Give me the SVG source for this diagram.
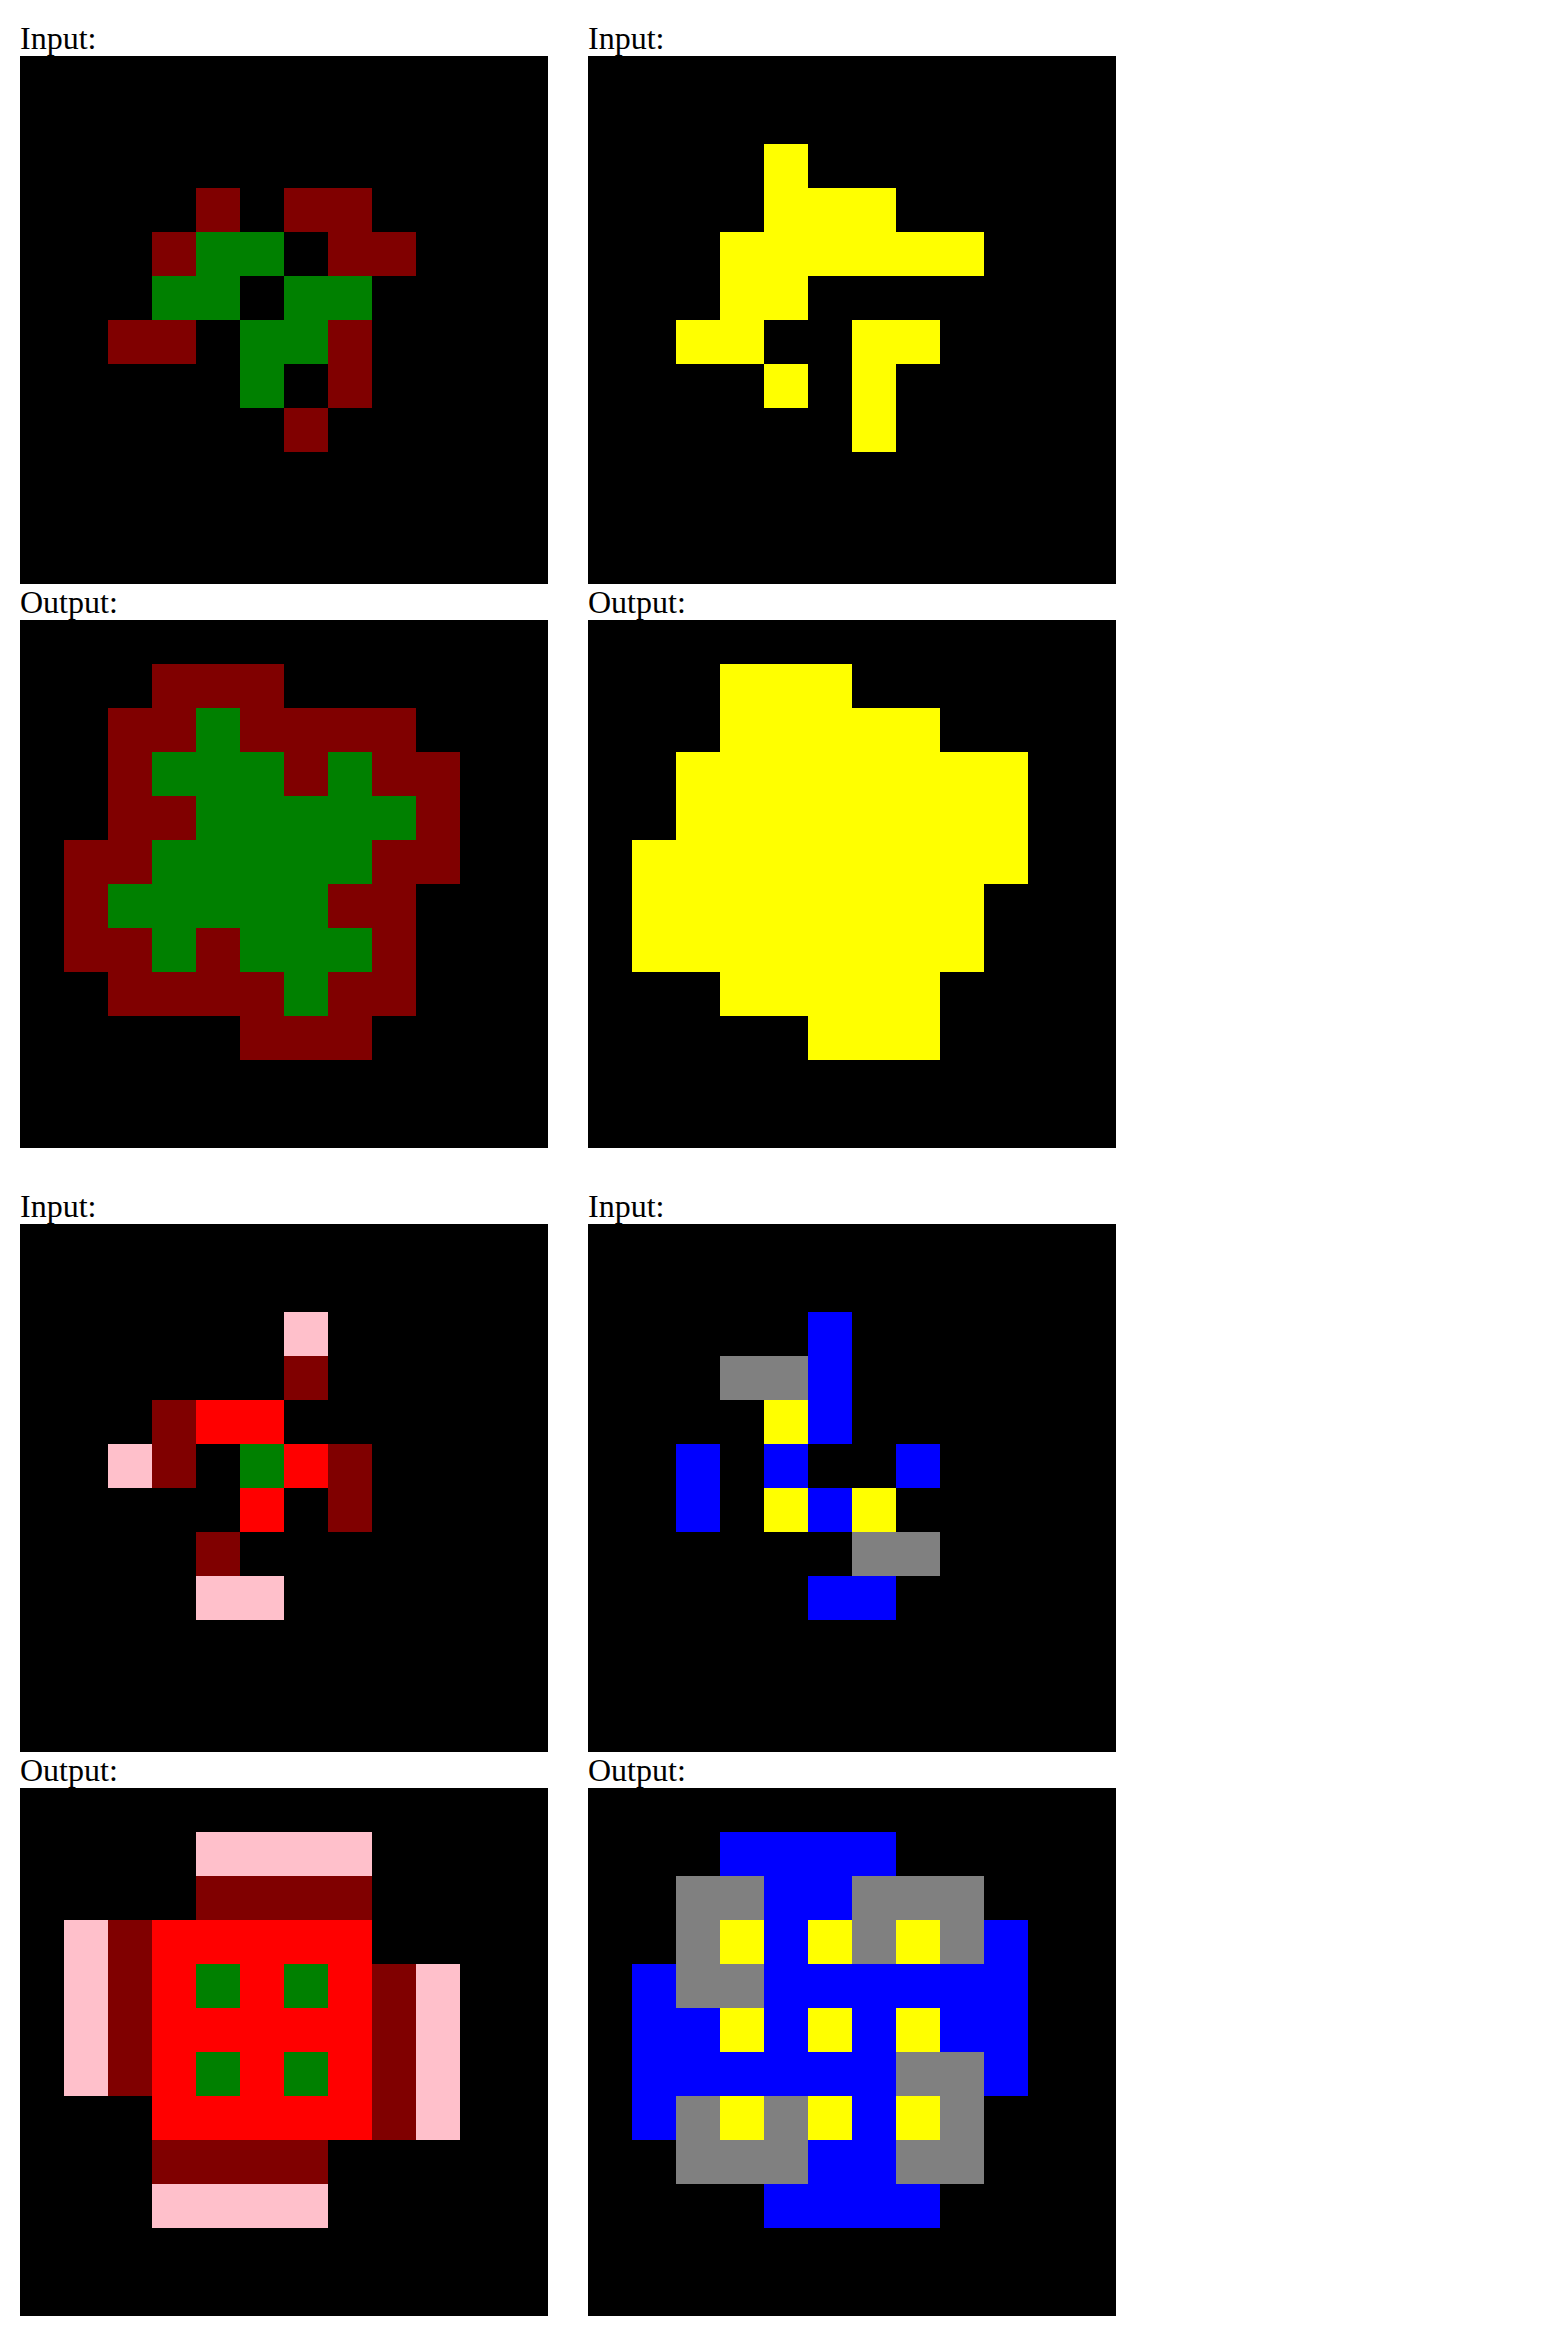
<svg xmlns="http://www.w3.org/2000/svg" width="1566" height="2336" viewBox="0 0 1566 2336">
<style>
text{font-family:"Liberation Serif","Times New Roman",serif;font-size:32px;fill:#000}
.bg{fill:#000}
.m{fill:#800000}.g{fill:#008000}.y{fill:#ffff00}.p{fill:#ffc0cb}.r{fill:#ff0000}.b{fill:#0000ff}.s{fill:#808080}
</style>
<rect width="1566" height="2336" fill="#fff"/>
<g id="labels">
<text x="20" y="49">Input:</text>
<text x="588" y="49">Input:</text>
<text x="20" y="613">Output:</text>
<text x="588" y="613">Output:</text>
<text x="20" y="1217">Input:</text>
<text x="588" y="1217">Input:</text>
<text x="20" y="1781">Output:</text>
<text x="588" y="1781">Output:</text>
</g>
<g id="p1-input">
<rect class="bg" x="20" y="56" width="528" height="528"/>
<rect class="m" x="196" y="188" width="44" height="44"/>
<rect class="m" x="284" y="188" width="88" height="44"/>
<rect class="m" x="152" y="232" width="44" height="44"/>
<rect class="m" x="328" y="232" width="88" height="44"/>
<rect class="m" x="108" y="320" width="88" height="44"/>
<rect class="m" x="328" y="320" width="44" height="88"/>
<rect class="m" x="284" y="408" width="44" height="44"/>
<rect class="g" x="196" y="232" width="88" height="44"/>
<rect class="g" x="152" y="276" width="88" height="44"/>
<rect class="g" x="284" y="276" width="88" height="44"/>
<rect class="g" x="240" y="320" width="88" height="44"/>
<rect class="g" x="240" y="364" width="44" height="44"/>
</g>
<g id="p2-input">
<rect class="bg" x="588" y="56" width="528" height="528"/>
<rect class="y" x="764" y="144" width="44" height="44"/>
<rect class="y" x="764" y="188" width="132" height="44"/>
<rect class="y" x="720" y="232" width="264" height="44"/>
<rect class="y" x="720" y="276" width="88" height="44"/>
<rect class="y" x="676" y="320" width="88" height="44"/>
<rect class="y" x="852" y="320" width="88" height="44"/>
<rect class="y" x="764" y="364" width="44" height="44"/>
<rect class="y" x="852" y="364" width="44" height="88"/>
</g>
<g id="p3-output">
<rect class="bg" x="20" y="620" width="528" height="528"/>
<rect class="m" x="152" y="664" width="132" height="44"/>
<rect class="m" x="108" y="708" width="88" height="44"/>
<rect class="g" x="196" y="708" width="44" height="44"/>
<rect class="m" x="240" y="708" width="176" height="44"/>
<rect class="m" x="108" y="752" width="44" height="44"/>
<rect class="g" x="152" y="752" width="132" height="44"/>
<rect class="m" x="284" y="752" width="44" height="44"/>
<rect class="g" x="328" y="752" width="44" height="44"/>
<rect class="m" x="372" y="752" width="88" height="44"/>
<rect class="m" x="108" y="796" width="88" height="44"/>
<rect class="g" x="196" y="796" width="220" height="44"/>
<rect class="m" x="416" y="796" width="44" height="44"/>
<rect class="m" x="64" y="840" width="88" height="44"/>
<rect class="g" x="152" y="840" width="220" height="44"/>
<rect class="m" x="372" y="840" width="88" height="44"/>
<rect class="m" x="64" y="884" width="44" height="44"/>
<rect class="g" x="108" y="884" width="220" height="44"/>
<rect class="m" x="328" y="884" width="88" height="44"/>
<rect class="m" x="64" y="928" width="88" height="44"/>
<rect class="g" x="152" y="928" width="44" height="44"/>
<rect class="m" x="196" y="928" width="44" height="44"/>
<rect class="g" x="240" y="928" width="132" height="44"/>
<rect class="m" x="372" y="928" width="44" height="44"/>
<rect class="m" x="108" y="972" width="176" height="44"/>
<rect class="g" x="284" y="972" width="44" height="44"/>
<rect class="m" x="328" y="972" width="88" height="44"/>
<rect class="m" x="240" y="1016" width="132" height="44"/>
</g>
<g id="p4-output">
<rect class="bg" x="588" y="620" width="528" height="528"/>
<rect class="y" x="720" y="664" width="132" height="44"/>
<rect class="y" x="720" y="708" width="220" height="44"/>
<rect class="y" x="676" y="752" width="352" height="88"/>
<rect class="y" x="632" y="840" width="396" height="44"/>
<rect class="y" x="632" y="884" width="352" height="88"/>
<rect class="y" x="720" y="972" width="220" height="44"/>
<rect class="y" x="808" y="1016" width="132" height="44"/>
</g>
<g id="p5-input">
<rect class="bg" x="20" y="1224" width="528" height="528"/>
<rect class="p" x="284" y="1312" width="44" height="44"/>
<rect class="m" x="284" y="1356" width="44" height="44"/>
<rect class="m" x="152" y="1400" width="44" height="88"/>
<rect class="r" x="196" y="1400" width="88" height="44"/>
<rect class="p" x="108" y="1444" width="44" height="44"/>
<rect class="g" x="240" y="1444" width="44" height="44"/>
<rect class="r" x="284" y="1444" width="44" height="44"/>
<rect class="m" x="328" y="1444" width="44" height="88"/>
<rect class="r" x="240" y="1488" width="44" height="44"/>
<rect class="m" x="196" y="1532" width="44" height="44"/>
<rect class="p" x="196" y="1576" width="88" height="44"/>
</g>
<g id="p6-input">
<rect class="bg" x="588" y="1224" width="528" height="528"/>
<rect class="b" x="808" y="1312" width="44" height="132"/>
<rect class="s" x="720" y="1356" width="88" height="44"/>
<rect class="y" x="764" y="1400" width="44" height="44"/>
<rect class="b" x="676" y="1444" width="44" height="88"/>
<rect class="b" x="764" y="1444" width="44" height="44"/>
<rect class="b" x="896" y="1444" width="44" height="44"/>
<rect class="y" x="764" y="1488" width="44" height="44"/>
<rect class="b" x="808" y="1488" width="44" height="44"/>
<rect class="y" x="852" y="1488" width="44" height="44"/>
<rect class="s" x="852" y="1532" width="88" height="44"/>
<rect class="b" x="808" y="1576" width="88" height="44"/>
</g>
<g id="p7-output">
<rect class="bg" x="20" y="1788" width="528" height="528"/>
<rect class="p" x="196" y="1832" width="176" height="44"/>
<rect class="m" x="196" y="1876" width="176" height="44"/>
<rect class="p" x="64" y="1920" width="44" height="176"/>
<rect class="m" x="108" y="1920" width="44" height="176"/>
<rect class="r" x="152" y="1920" width="220" height="220"/>
<rect class="g" x="196" y="1964" width="44" height="44"/>
<rect class="g" x="284" y="1964" width="44" height="44"/>
<rect class="g" x="196" y="2052" width="44" height="44"/>
<rect class="g" x="284" y="2052" width="44" height="44"/>
<rect class="m" x="372" y="1964" width="44" height="176"/>
<rect class="p" x="416" y="1964" width="44" height="176"/>
<rect class="m" x="152" y="2140" width="176" height="44"/>
<rect class="p" x="152" y="2184" width="176" height="44"/>
</g>
<g id="p8-output">
<rect class="bg" x="588" y="1788" width="528" height="528"/>
<rect class="b" x="720" y="1832" width="176" height="44"/>
<rect class="s" x="676" y="1876" width="88" height="44"/>
<rect class="b" x="764" y="1876" width="88" height="44"/>
<rect class="s" x="852" y="1876" width="132" height="44"/>
<rect class="s" x="676" y="1920" width="44" height="44"/>
<rect class="y" x="720" y="1920" width="44" height="44"/>
<rect class="b" x="764" y="1920" width="44" height="44"/>
<rect class="y" x="808" y="1920" width="44" height="44"/>
<rect class="s" x="852" y="1920" width="44" height="44"/>
<rect class="y" x="896" y="1920" width="44" height="44"/>
<rect class="s" x="940" y="1920" width="44" height="44"/>
<rect class="b" x="984" y="1920" width="44" height="44"/>
<rect class="b" x="632" y="1964" width="44" height="44"/>
<rect class="s" x="676" y="1964" width="88" height="44"/>
<rect class="b" x="764" y="1964" width="264" height="44"/>
<rect class="b" x="632" y="2008" width="88" height="44"/>
<rect class="y" x="720" y="2008" width="44" height="44"/>
<rect class="b" x="764" y="2008" width="44" height="44"/>
<rect class="y" x="808" y="2008" width="44" height="44"/>
<rect class="b" x="852" y="2008" width="44" height="44"/>
<rect class="y" x="896" y="2008" width="44" height="44"/>
<rect class="b" x="940" y="2008" width="88" height="44"/>
<rect class="b" x="632" y="2052" width="264" height="44"/>
<rect class="s" x="896" y="2052" width="88" height="44"/>
<rect class="b" x="984" y="2052" width="44" height="44"/>
<rect class="b" x="632" y="2096" width="44" height="44"/>
<rect class="s" x="676" y="2096" width="44" height="44"/>
<rect class="y" x="720" y="2096" width="44" height="44"/>
<rect class="s" x="764" y="2096" width="44" height="44"/>
<rect class="y" x="808" y="2096" width="44" height="44"/>
<rect class="b" x="852" y="2096" width="44" height="44"/>
<rect class="y" x="896" y="2096" width="44" height="44"/>
<rect class="s" x="940" y="2096" width="44" height="44"/>
<rect class="s" x="676" y="2140" width="132" height="44"/>
<rect class="b" x="808" y="2140" width="88" height="44"/>
<rect class="s" x="896" y="2140" width="88" height="44"/>
<rect class="b" x="764" y="2184" width="176" height="44"/>
</g>
</svg>
